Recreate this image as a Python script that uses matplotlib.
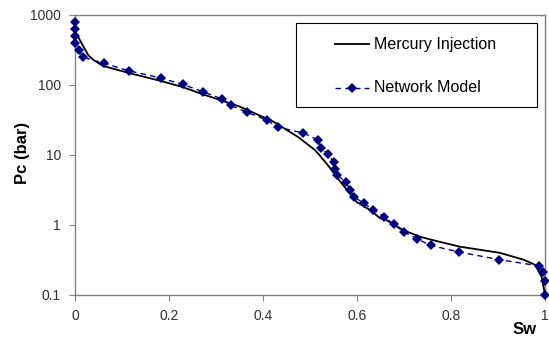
import matplotlib
matplotlib.use("Agg")
import matplotlib.pyplot as plt
from matplotlib.ticker import FixedLocator, FixedFormatter
from matplotlib.patches import Rectangle
from matplotlib.lines import Line2D

plt.rcParams['font.family'] = ['Liberation Sans', 'DejaVu Sans']

# Mercury injection curve
hg_sw = [0.001, 0.014, 0.028, 0.039, 0.060, 0.117, 0.181, 0.230, 0.266, 0.351,
         0.422, 0.475, 0.511, 0.535, 0.564, 0.585, 0.599, 0.628, 0.649, 0.663,
         0.699, 0.734, 0.769, 0.819, 0.904, 0.954, 0.979, 0.993, 1.0]
hg_pc = [575, 395, 268, 228, 187, 147, 115, 93, 76, 49,
         30, 18, 11.7, 7.6, 4.2, 2.8, 2.14, 1.63, 1.25, 1.17,
         0.84, 0.68, 0.59, 0.49, 0.40, 0.32, 0.27, 0.18, 0.10]

# Network model points
nm_sw = [0.0, 0.0, 0.0, 0.0, 0.009, 0.016, 0.062, 0.114, 0.182, 0.229,
         0.273, 0.313, 0.332, 0.365, 0.408, 0.431, 0.486, 0.517, 0.523, 0.539,
         0.550, 0.553, 0.558, 0.576, 0.585, 0.594, 0.615, 0.635, 0.657, 0.679,
         0.699, 0.727, 0.757, 0.818, 0.903, 0.988, 0.995, 0.999, 1.0]
nm_pc = [794, 631, 505, 400, 316, 251, 204, 160, 126, 102,
         80, 63, 51, 41, 31.6, 25, 20.6, 16.4, 12.6, 10.2,
         7.9, 6.3, 5.2, 4.1, 3.2, 2.5, 2.04, 1.63, 1.31, 1.02,
         0.80, 0.64, 0.51, 0.41, 0.32, 0.26, 0.21, 0.16, 0.10]

series_labels = ['Mercury Injection', 'Network Model']
x_ticks = [0, 0.2, 0.4, 0.6, 0.8, 1]
x_labels = ['0', '0.2', '0.4', '0.6', '0.8', '1']
y_ticks = [0.1, 1, 10, 100, 1000]
y_labels = ['0.1', '1', '10', '100', '1000']

W, H = 549, 339
fig = plt.figure(figsize=(W/100, H/100), dpi=100)
ax = fig.add_axes([75/W, 1-295/H, 470/W, 280/H])

hg_style = dict(color='black', lw=1.3)
nm_style = dict(color='#000080', lw=1.0, linestyle=(0, (4, 3)),
                marker='D', markersize=5.5, markeredgewidth=0)

ax.plot(hg_sw, hg_pc, zorder=3, **hg_style)
ax.plot(nm_sw, nm_pc, zorder=4, clip_on=False, **nm_style)

ax.set_yscale('log')
ax.set_xlim(0, 1)
ax.set_ylim(0.1, 1000)
ax.xaxis.set_major_locator(FixedLocator(x_ticks))
ax.xaxis.set_major_formatter(FixedFormatter(x_labels))
ax.yaxis.set_major_locator(FixedLocator(y_ticks))
ax.yaxis.set_major_formatter(FixedFormatter(y_labels))
ax.yaxis.set_minor_locator(FixedLocator([]))

for s in ax.spines.values():
    s.set_color('#808080')
    s.set_linewidth(1.0)

ax.tick_params(axis='both', which='major', direction='out', length=4,
               color='#808080', labelsize=10, labelcolor='#303030', pad=6)

fig.text(23/W, 1-153/H, 'Pc (bar)', fontsize=12, fontweight='bold',
         rotation=90, ha='center', va='center')
fig.text(525/W, 1-329/H, 'Sw', fontsize=12, fontweight='bold',
         ha='center', va='center')

# Legend (drawn in figure pixel layout)
fig.patches.append(Rectangle((296/W, 1-107/H), 241/W, 84/H,
                             transform=fig.transFigure, facecolor='white',
                             edgecolor='black', lw=0.8, zorder=5))
for (yy, lab, st) in [(44, series_labels[0], hg_style), (88, series_labels[1], nm_style)]:
    kw = dict(st)
    if 'marker' in kw:
        kw.pop('marker'); kw.pop('markersize'); kw.pop('markeredgewidth')
    fig.lines.append(Line2D([335/W, 369/W], [1-yy/H, 1-yy/H],
                            transform=fig.transFigure, zorder=6, **kw))
    if 'marker' in st:
        fig.lines.append(Line2D([352/W], [1-yy/H], transform=fig.transFigure,
                                color=st['color'], marker='D',
                                markersize=st['markersize'], markeredgewidth=0,
                                linestyle='none', zorder=7))
    fig.text(374/W, 1-yy/H, lab, fontsize=11.5, ha='left', va='center', zorder=7)

fig.savefig('out.png', dpi=100)
